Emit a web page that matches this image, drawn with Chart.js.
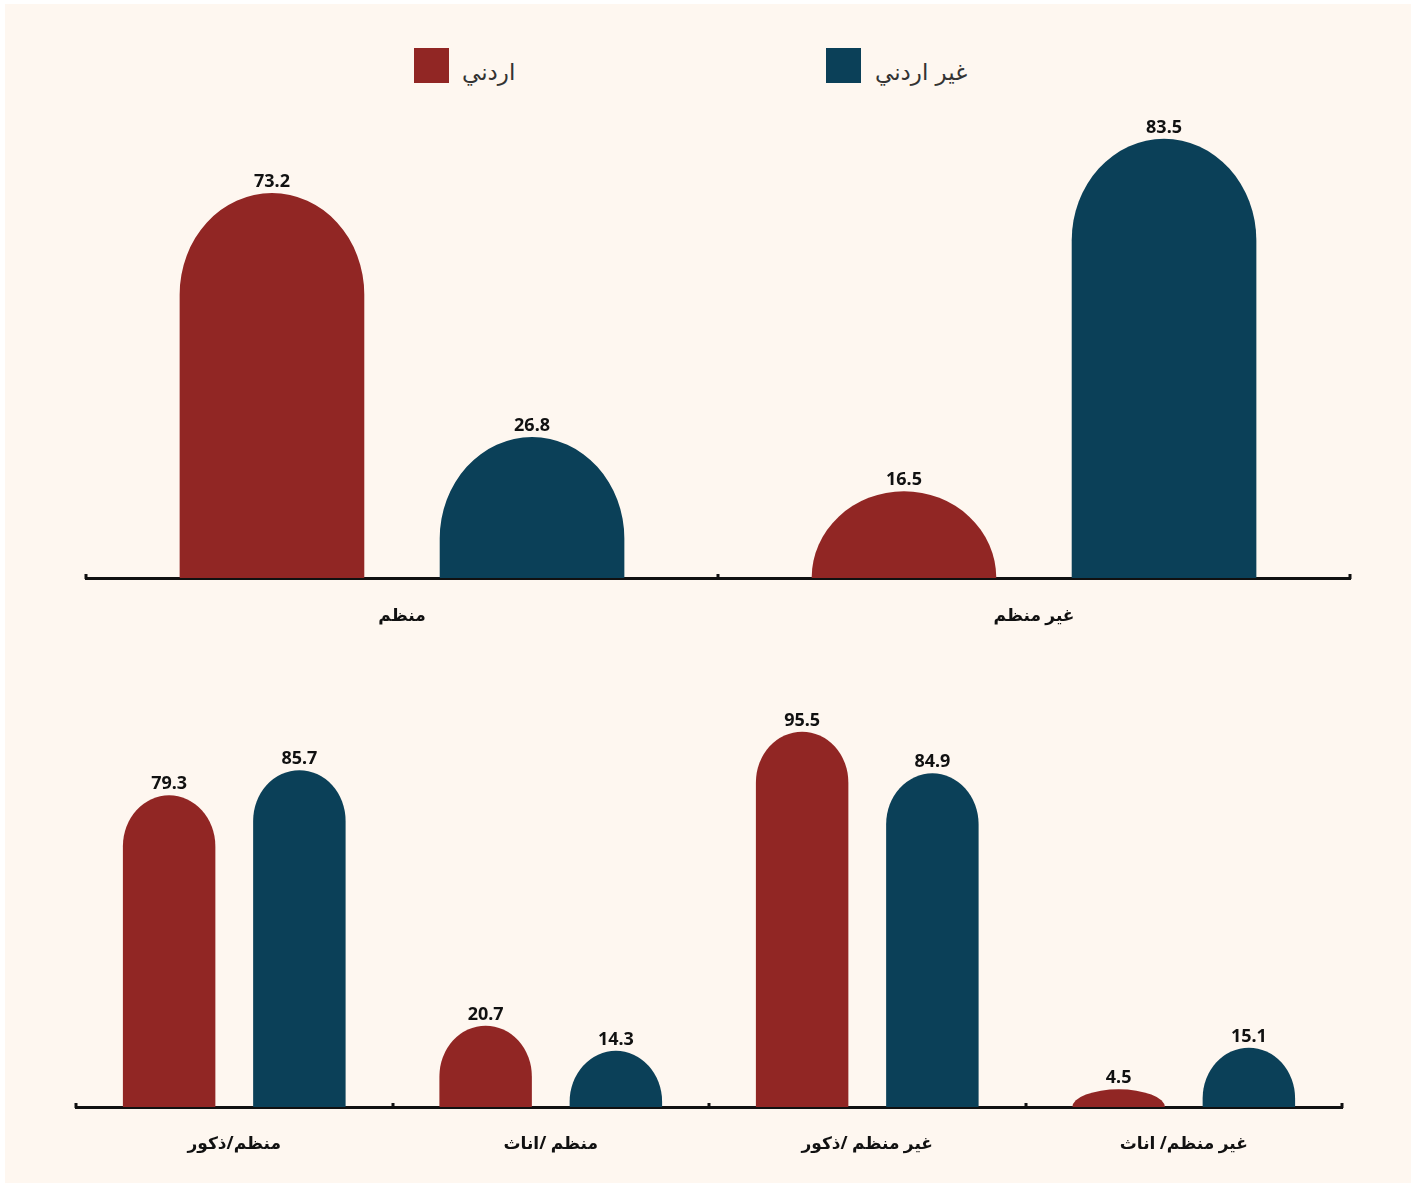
<!DOCTYPE html>
<html lang="ar">
<head>
<meta charset="utf-8">
<script src="https://cdn.jsdelivr.net/npm/chart.js@4.4.1/dist/chart.umd.min.js"></script>
<style>
  html, body { margin: 0; padding: 0; background: #ffffff; }
  #frame { position: absolute; left: 5px; top: 4px; width: 1406px; height: 1179px; background: #fef7f0; }
  .lg-box { position: absolute; width: 35px; height: 35px; }
  .lg-text { position: absolute; font-family: 'DejaVu Sans', sans-serif; font-size: 23px; color: #333; line-height: 35px; white-space: nowrap; }
  canvas { position: absolute; left: 0; }
</style>
</head>
<body>
<div id="frame"></div>
<div class="lg-box" id="lgBox0" style="left:414px; top:48px;"></div>
<div class="lg-text" id="lgText0" style="left:462px; top:55px;"></div>
<div class="lg-box" id="lgBox1" style="left:826px; top:48px;"></div>
<div class="lg-text" id="lgText1" style="left:875px; top:55px;"></div>
<div style="position:absolute; left:0; top:0; width:1416px; height:650px;"><canvas id="c1"></canvas></div>
<div style="position:absolute; left:0; top:650px; width:1416px; height:536px;"><canvas id="c2"></canvas></div>
<script>
// ---- data ----
const seriesNames = ['اردني', 'غير اردني'];
const seriesColors = ['#912624', '#0b4058'];

const categoriesTop = ['منظم', 'غير منظم'];
const jordanianTop = [73.2, 16.5];
const nonJordanianTop = [26.8, 83.5];

const categoriesBottom = ['منظم/ذكور', 'منظم /اناث', 'غير منظم /ذكور', 'غير منظم/ اناث'];
const jordanianBottom = [79.3, 20.7, 95.5, 4.5];
const nonJordanianBottom = [85.7, 14.3, 84.9, 15.1];

// legend
seriesNames.forEach((n, i) => {
  document.getElementById('lgBox' + i).style.background = seriesColors[i];
  document.getElementById('lgText' + i).textContent = n;
});

const FONT = "'Noto Sans', 'DejaVu Sans', sans-serif";

const roundBars = {
  id: 'roundBars',
  beforeDatasetDraw(chart, args) {
    const ctx = chart.ctx;
    ctx.save();
    args.meta.data.forEach(el => {
      const p = el.getProps(['x', 'y', 'base', 'width'], true);
      const rx = p.width / 2;
      const h = p.base - p.y;
      const ry = Math.min(rx * 1.1, h);
      const left = p.x - rx;
      ctx.beginPath();
      ctx.moveTo(left, p.base);
      ctx.lineTo(left, p.y + ry);
      ctx.ellipse(p.x, p.y + ry, rx, ry, 0, Math.PI, 2 * Math.PI);
      ctx.lineTo(p.x + rx, p.base);
      ctx.closePath();
      ctx.fillStyle = el.options.backgroundColor;
      ctx.fill();
    });
    ctx.restore();
    return false;
  },
  afterDatasetsDraw(chart) {
    const ctx = chart.ctx;
    ctx.save();
    ctx.font = 'bold 18px ' + FONT;
    ctx.fillStyle = '#111';
    ctx.textAlign = 'center';
    ctx.textBaseline = 'alphabetic';
    chart.data.datasets.forEach((ds, di) => {
      const meta = chart.getDatasetMeta(di);
      meta.data.forEach((el, i) => {
        ctx.fillText(ds.data[i].toFixed(1), el.x, el.y - 6);
      });
    });
    // boundary tick marks (upward)
    const xs = chart.scales.x;
    const n = chart.data.labels.length;
    for (let i = 0; i <= n; i++) {
      const x = xs.left + i * xs.width / n;
      ctx.fillRect(Math.round(x) - 1.5, xs.top - 4, 3, 5);
    }
    ctx.restore();
  }
};

function makeChart(id, labels, a, b, pad, labelPad) {
  return new Chart(document.getElementById(id), {
    type: 'bar',
    data: {
      labels: labels,
      datasets: [
        { label: seriesNames[0], data: a, backgroundColor: seriesColors[0] },
        { label: seriesNames[1], data: b, backgroundColor: seriesColors[1] }
      ]
    },
    options: {
      responsive: true,
      maintainAspectRatio: false,
      animation: false,
      events: [],
      categoryPercentage: 0.823,
      barPercentage: 0.71,
      layout: { padding: pad },
      plugins: { legend: { display: false }, tooltip: { enabled: false } },
      scales: {
        x: {
          grid: { display: false },
          border: { display: true, color: '#111', width: 3 },
          ticks: { color: '#111', font: { family: FONT, size: 17, weight: 'bold' }, padding: labelPad },
          afterFit: s => { s.height = 60; }
        },
        y: { display: false, min: 0, max: 100 }
      }
    },
    plugins: [roundBars]
  });
}

makeChart('c1', categoriesTop, jordanianTop, nonJordanianTop, { top: 52, bottom: 12, left: 86, right: 66 }, 20);
makeChart('c2', categoriesBottom, jordanianBottom, nonJordanianBottom, { top: 64, bottom: 19, left: 76, right: 74 }, 19);
</script>
</body>
</html>
